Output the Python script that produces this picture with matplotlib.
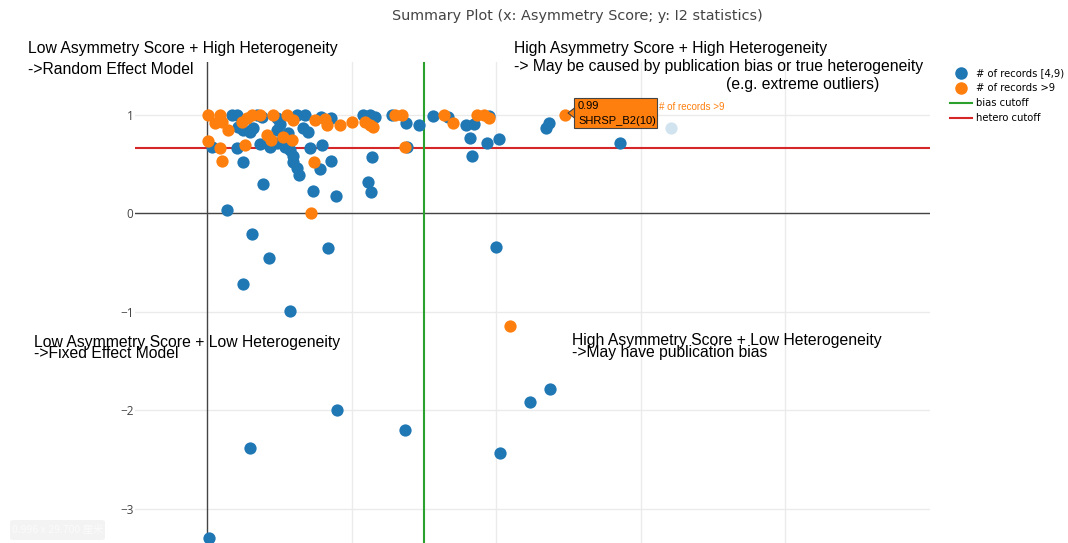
import matplotlib
matplotlib.use("Agg")
import matplotlib.pyplot as plt
from matplotlib.lines import Line2D
from matplotlib.patches import FancyBboxPatch, Polygon

# --- data ---------------------------------------------------------------- #
blue_x = [0.034, 0.138, 0.172, 0.207, 0.214, 0.248, 0.207, 0.248, 0.297, 0.317,
          0.345, 0.366, 0.379, 0.434, 0.310, 0.428, 0.248, 0.386, 0.483, 0.503,
          0.483, 0.559, 0.483, 0.538, 0.572, 0.593, 0.593, 0.621, 0.634, 0.621,
          0.676, 0.662, 0.697, 0.710, 0.786, 0.855, 0.793, 0.731, 0.779, 0.855,
          0.890, 0.572, 0.834, 1.076, 1.124, 1.159, 1.110, 1.131, 1.138, 1.276,
          1.372, 1.379, 1.462, 1.559, 1.662, 1.793, 1.848, 1.821, 1.828, 1.938,
          2.021, 1.952, 2.345, 2.366, 2.855, 2.000, 0.897, 0.297, 1.366, 2.028,
          2.234, 2.372, 0.014]
blue_y = [0.670, 0.030, 0.995, 0.995, 0.873, 0.843, 0.660, 0.518, 0.822, 0.863,
          1.000, 0.700, 0.975, 0.670, -0.213, -0.457, -0.721, 0.294, 0.964, 0.904,
          0.843, 0.812, 0.711, 0.670, 0.640, 0.579, 0.518, 0.457, 0.386, 1.000,
          1.000, 0.863, 0.822, 0.660, 0.975, 0.964, 0.690, 0.223, 0.447, 0.528,
          0.173, -0.995, -0.355, 1.000, 1.000, 0.975, 0.315, 0.213, 0.569, 1.000,
          0.914, 0.670, 0.893, 0.985, 0.975, 0.893, 0.904, 0.761, 0.579, 0.711,
          0.751, 0.985, 0.863, 0.914, 0.711, -0.345, -2.000, -2.386, -2.203, -2.437,
          -1.919, -1.787, -3.300]

orange_x = [0.007, 0.090, 0.103, 0.055, 0.145, 0.007, 0.090, 0.103, 0.241, 0.276,
            0.310, 0.366, 0.262, 0.414, 0.441, 0.455, 0.552, 0.593, 0.524, 0.586,
            0.745, 0.814, 0.828, 0.917, 1.000, 1.090, 1.124, 1.145, 1.297, 1.345,
            1.366, 1.641, 1.697, 1.869, 1.917, 1.952, 2.476, 2.097, 0.738, 0.717]
orange_y = [1.000, 1.000, 0.924, 0.914, 0.843, 0.731, 0.660, 0.528, 0.924, 0.964,
            0.995, 1.000, 0.690, 0.792, 0.741, 0.995, 1.000, 0.944, 0.772, 0.741,
            0.944, 0.954, 0.893, 0.893, 0.924, 0.924, 0.893, 0.873, 1.000, 0.995,
            0.670, 1.000, 0.914, 1.000, 1.000, 0.964, 0.990, -1.147, 0.518, 0.000]

faded_x = [3.207]
faded_y = [0.863]

bias_cutoff = 1.5
hetero_cutoff = 0.66
y_ticks = [-3, -2, -1, 0, 1]
hover_value = "0.99"
hover_label = "SHRSP_B2(10)"

C_BLUE = "#1f77b4"
C_ORANGE = "#ff7f0e"
C_GREEN = "#2ca02c"
C_RED = "#d62728"

W, H = 1068, 543


def fx(px):
    return px / W


def fy(py):
    return 1 - py / H


fig = plt.figure(figsize=(W / 100, H / 100), dpi=100)
fig.patch.set_facecolor("white")
ax = fig.add_axes([fx(135), 0, fx(930) - fx(135), fy(62)])
ax.set_xlim(-0.5, 5.0)
ax.set_ylim(-3.35, 1.533)

for yv in y_ticks:
    ax.axhline(yv, color="#ebebeb", lw=1, zorder=0)
for xv in [1, 2, 3, 4]:
    ax.axvline(xv, color="#ebebeb", lw=1, zorder=0)
ax.axhline(0, color="#444444", lw=1, zorder=1)
ax.axvline(0, color="#444444", lw=1, zorder=1)

ax.axhline(hetero_cutoff, color=C_RED, lw=1.5, zorder=2)
ax.axvline(bias_cutoff, color=C_GREEN, lw=1.5, zorder=2)

ax.scatter(blue_x, blue_y, s=78, c=C_BLUE, linewidths=0, zorder=3)
ax.scatter(orange_x, orange_y, s=78, c=C_ORANGE, linewidths=0, zorder=4)
ax.scatter(faded_x, faded_y, s=78, c=C_BLUE, alpha=0.2, linewidths=0, zorder=3)

ax.set_yticks(y_ticks)
ax.set_yticklabels([str(v).replace("-", "\u2212") for v in y_ticks],
                   fontsize=8.5, color="#444444", family="Open Sans")
ax.set_xticks([])
ax.tick_params(axis="y", length=0, pad=1)
for sp in ax.spines.values():
    sp.set_visible(False)
ax.patch.set_alpha(0)

# --- title and quadrant notes --------------------------------------------- #
fig.text(fx(577), fy(16), "Summary Plot (x: Asymmetry Score; y: I2 statistics)",
         ha="center", va="center", fontsize=10.4, color="#444444", family="DejaVu Sans")

note = dict(fontsize=11.3, color="black", family="Liberation Sans", va="center")
fig.text(fx(28), fy(48), "Low Asymmetry Score + High Heterogeneity", **note)
fig.text(fx(28), fy(70), "->Random Effect Model", **note)
fig.text(fx(514), fy(48), "High Asymmetry Score + High Heterogeneity", **note)
fig.text(fx(514), fy(66), "-> May be caused by publication bias or true heterogeneity", **note)
fig.text(fx(726), fy(84), "(e.g. extreme outliers)", **note)
fig.text(fx(34), fy(342), "Low Asymmetry Score + Low Heterogeneity", **note)
fig.text(fx(34), fy(354), "->Fixed Effect Model", **note)
fig.text(fx(572), fy(340), "High Asymmetry Score + Low Heterogeneity", **note)
fig.text(fx(572), fy(353), "->May have publication bias", **note)

# --- hover tooltip --------------------------------------------------------- #
box = FancyBboxPatch((fx(574), fy(128)), fx(657) - fx(574), fy(98) - fy(128),
                     boxstyle="square,pad=0", transform=fig.transFigure,
                     facecolor=C_ORANGE, edgecolor="#444444", lw=0.8, zorder=5)
fig.patches.append(box)
arrow = Polygon([(fx(568), fy(113)), (fx(574.5), fy(108)), (fx(574.5), fy(118))],
                closed=True, transform=fig.transFigure, facecolor=C_ORANGE,
                edgecolor="#444444", lw=0.8, zorder=5)
fig.patches.append(arrow)
fig.text(fx(578), fy(106), hover_value, fontsize=8, family="Liberation Sans",
         va="center", zorder=6)
fig.text(fx(578), fy(121), hover_label, fontsize=8, family="Liberation Sans",
         va="center", zorder=6)
fig.text(fx(659), fy(107), "# of records >9", fontsize=7, family="Liberation Sans",
         color=C_ORANGE, va="center")

# --- legend ---------------------------------------------------------------- #
handles = [
    Line2D([], [], marker="o", ls="", color=C_BLUE, markersize=8),
    Line2D([], [], marker="o", ls="", color=C_ORANGE, markersize=8),
    Line2D([], [], color=C_GREEN, lw=1.5),
    Line2D([], [], color=C_RED, lw=1.5),
]
labels = ["# of records [4,9)", "# of records >9", "bias cutoff", "hetero cutoff"]
fig.legend(handles, labels, loc="upper left", bbox_to_anchor=(fx(943), fy(61)),
           frameon=False, prop={"family": "DejaVu Sans", "size": 7.2},
           handlelength=2.2, handletextpad=0.4, labelspacing=0.5, borderpad=0.2)

# --- faint page-size badge ------------------------------------------------- #
badge = FancyBboxPatch((fx(10), fy(540)), fx(95), fy(520) - fy(540),
                       boxstyle="round,pad=0,rounding_size=0.004",
                       transform=fig.transFigure, facecolor="#f3f3f3",
                       edgecolor="none", zorder=0)
fig.patches.append(badge)
fig.text(fx(12), fy(530), "0.996 x 29.700 厘米", fontsize=7.5, color="#fbfbfb",
         va="center", family=["Noto Sans CJK SC", "DejaVu Sans"])

fig.savefig("out.png", dpi=100)
